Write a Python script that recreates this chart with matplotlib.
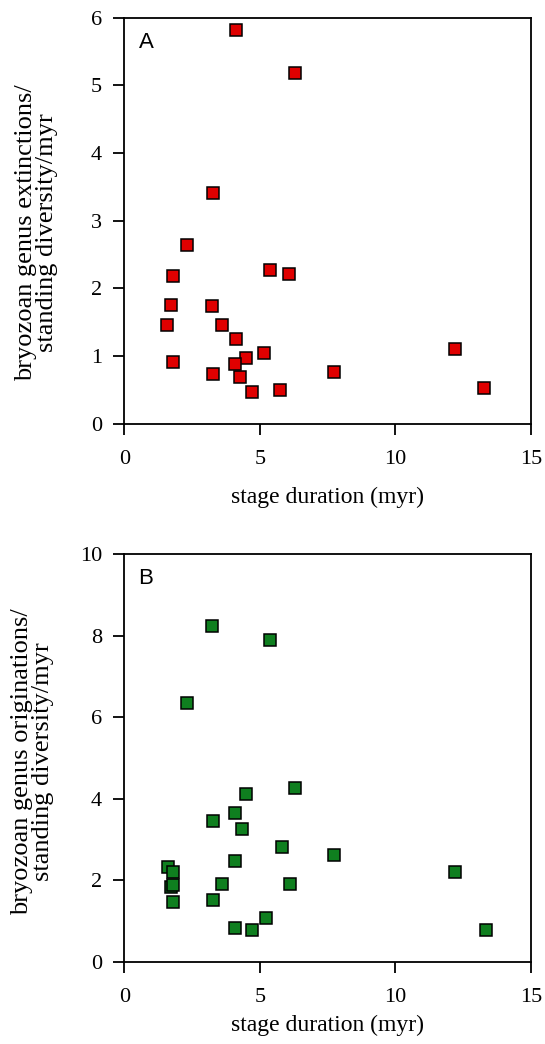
import matplotlib.pyplot as plt

plt.rcParams['font.family'] = ['Liberation Serif', 'DejaVu Serif']

# panel A: extinctions
dur_a = [4.12, 6.29, 3.29, 2.32, 1.80, 5.38, 6.06, 1.71, 3.22, 1.57, 3.60, 4.12,
         5.16, 4.49, 4.09, 1.80, 3.29, 4.28, 4.72, 5.76, 7.73, 12.21, 13.27]
ext_a = [5.82, 5.19, 3.41, 2.64, 2.18, 2.28, 2.21, 1.76, 1.74, 1.46, 1.46, 1.25,
         1.05, 0.98, 0.89, 0.92, 0.74, 0.69, 0.47, 0.50, 0.77, 1.10, 0.53]

# panel B: originations
dur_b = [3.22, 5.38, 2.32, 6.29, 4.49, 4.08, 3.29, 4.35, 5.83, 7.73, 4.08, 1.63,
         1.80, 12.20, 3.60, 6.13, 1.71, 1.80, 1.80, 3.29, 5.23, 4.08, 4.72, 13.33]
org_b = [8.25, 7.89, 6.35, 4.26, 4.11, 3.66, 3.45, 3.26, 2.81, 2.61, 2.46, 2.32,
         2.21, 2.21, 1.91, 1.91, 1.82, 1.87, 1.47, 1.52, 1.07, 0.82, 0.77, 0.77]

fig = plt.figure(figsize=(5.45, 10.44), dpi=100)
ax1 = fig.add_axes([0.228, 0.594, 0.746, 0.389])
ax2 = fig.add_axes([0.228, 0.079, 0.746, 0.390])

def style(ax, ylim, yticks, ylabel, letter, lx, ly, xpad):
    ax.set_xlim(0, 15)
    ax.set_ylim(*ylim)
    ax.set_xticks([0, 5, 10, 15])
    ax.set_yticks(yticks)
    ax.tick_params(direction='out', length=8, width=1.3, labelsize=16, pad=8)
    ax.tick_params(axis='x', pad=11)
    for s in ax.spines.values():
        s.set_linewidth(1.3)
    ax.set_xlabel('stage duration (myr)', fontsize=17, labelpad=xpad)
    ax.set_ylabel(ylabel, fontsize=19, linespacing=0.95)
    ax.yaxis.set_label_coords(lx, ly)
    ax.text(0.035, 0.94, letter, transform=ax.transAxes, fontsize=16,
            family='Liberation Sans', va='center', ha='left')

ax1.plot(dur_a, ext_a, 's', ms=8.5, mfc='#e00000', mec='black', mew=1.1)
style(ax1, (0, 6), range(0, 7), 'bryozoan genus extinctions/\nstanding diversity/myr',
      'A', -0.162, 0.47, 13)

ax2.plot(dur_b, org_b, 's', ms=8.5, mfc='#0f7f1f', mec='black', mew=1.1)
style(ax2, (0, 10), range(0, 11, 2), 'bryozoan genus originations/\nstanding diversity/myr',
      'B', -0.172, 0.49, 6)

fig.savefig('out.png', dpi=100)
